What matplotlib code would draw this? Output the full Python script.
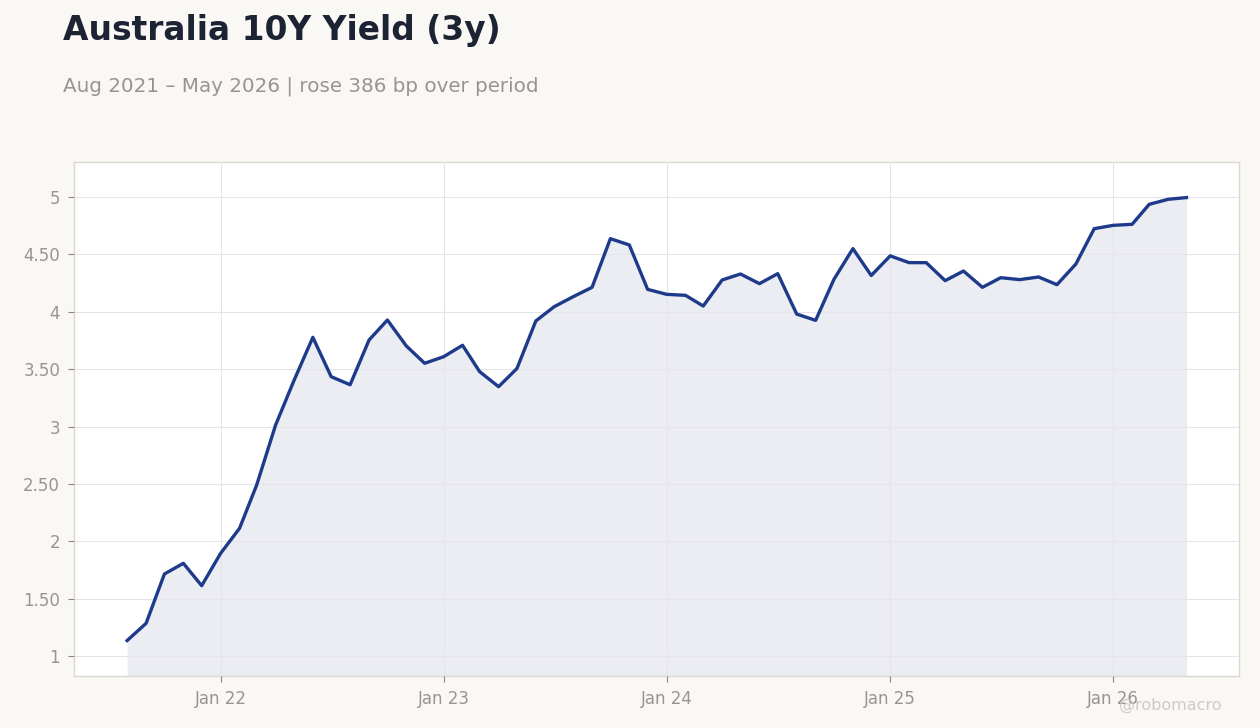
import numpy as np
import pandas as pd
import matplotlib
matplotlib.use("Agg")
import matplotlib.pyplot as plt
import matplotlib.dates as mdates

plt.rcParams["font.family"] = ["DejaVu Sans"]

# monthly readings, Aug 2021 - May 2026
months = pd.date_range("2021-08-01", "2026-05-01", freq="MS")
yields = [
    1.135, 1.285, 1.715, 1.808, 1.613, 1.895, 2.113, 2.49, 3.013, 3.40,
    3.777, 3.434, 3.364, 3.754, 3.928, 3.702, 3.551, 3.608, 3.708, 3.478,
    3.347, 3.505, 3.92, 4.044, 4.131, 4.213, 4.637, 4.582, 4.195, 4.152,
    4.143, 4.05, 4.277, 4.329, 4.245, 4.332, 3.98, 3.925, 4.283, 4.55,
    4.316, 4.487, 4.428, 4.428, 4.271, 4.355, 4.213, 4.297, 4.28, 4.303,
    4.236, 4.416, 4.724, 4.753, 4.762, 4.936, 4.98, 4.995,
]
y_ticks = [1, 1.5, 2, 2.5, 3, 3.5, 4, 4.5, 5]
y_tick_labels = ["1", "1.50", "2", "2.50", "3", "3.50", "4", "4.50", "5"]

title = "Australia 10Y Yield (3y)"
subtitle = "Aug 2021 \u2013 May 2026 | rose 386 bp over period"

bg = "#f9f8f5"
line_col = "#1e3a8a"
grey = "#99948f"

fig = plt.figure(figsize=(12.6, 7.28), dpi=100, facecolor=bg)
ax = fig.add_axes([74 / 1260, 1 - 676 / 728, (1239 - 74) / 1260, (676 - 162) / 728])
ax.set_facecolor("white")

ax.fill_between(months, yields, 0, color="#e4e5ee", alpha=0.7, linewidth=0, zorder=1)
ax.plot(months, yields, color=line_col, linewidth=2.4, zorder=3)

ax.set_ylim(0.826, 5.305)
ax.set_xlim(pd.Timestamp("2021-05-06"), pd.Timestamp("2026-07-26"))

ax.set_yticks(y_ticks)
ax.set_yticklabels(y_tick_labels)
ax.xaxis.set_major_locator(mdates.YearLocator(month=1, day=1))
ax.xaxis.set_major_formatter(mdates.DateFormatter("Jan %y"))

ax.grid(True, color="#e4e4ea", linewidth=0.8, zorder=2)
ax.set_axisbelow(False)
for sp in ax.spines.values():
    sp.set_color("#ddd8cf")
    sp.set_linewidth(1.0)
ax.tick_params(axis="both", colors="#8a8580", labelcolor=grey, labelsize=12,
               length=4, width=0.8, pad=6)

fig.text(63 / 1260, 1 - 40 / 728, title, fontsize=23.7, fontweight="bold",
         color="#1c2333", ha="left", va="baseline")
fig.text(63 / 1260, 1 - 92 / 728, subtitle, fontsize=14.3, color=grey,
         ha="left", va="baseline")
fig.text(1222 / 1260, 1 - 710 / 728, "@robomacro", fontsize=11.5, color="#cfcbc6",
         ha="right", va="baseline")

fig.savefig("out.png", dpi=100, facecolor=bg)
